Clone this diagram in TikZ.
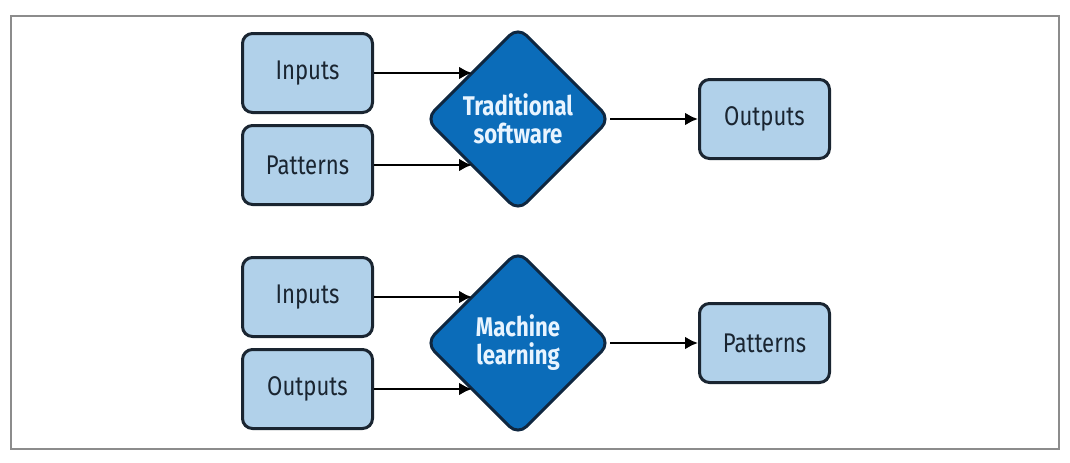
\documentclass[tikz,border=0pt]{standalone}
\usepackage{fontspec}
\setmainfont{Fira Sans}[FakeStretch=0.82]
\usepackage{tikz}
\usetikzlibrary{shapes.geometric, arrows.meta, positioning}

\definecolor{boxfill}{HTML}{B1D1EA}
\definecolor{boxline}{HTML}{1A2531}
\definecolor{decfill}{HTML}{0B6CB9}
\definecolor{decline}{HTML}{0F2740}
\definecolor{dectext}{HTML}{E8F4FF}
\definecolor{frameline}{HTML}{8C8C8C}

\tikzset{
  box/.style={draw=boxline, fill=boxfill, line width=1.5pt, rounded corners=5pt,
    minimum width=65pt, minimum height=39.5pt, text=boxline,
    font=\fontsize{13.5pt}{14pt}\selectfont},
  decision/.style={diamond, aspect=1, draw=decline, fill=decfill, line width=1.5pt,
    rounded corners=6pt, minimum size=92pt, inner sep=0pt, outer sep=0pt,
    align=center, text=dectext, font=\fontsize{13.5pt}{14pt}\selectfont\bfseries},
  arr/.style={-{Latex[length=6.5pt,width=6.5pt]}, line width=1.3pt, draw=black}
}

\begin{document}
\begin{tikzpicture}[node distance=2.0cm]
        \useasboundingbox (0,0) rectangle (535pt,231pt);
        \draw[frameline, line width=1pt] (5.5pt,6.5pt) rectangle (529.5pt,223pt);

        % traditional software
        \node[decision] (3) at (259pt,171.5pt) {Traditional\\software};
        \node[box] (1) [left=49pt of 3.north west] {Inputs};
        \node[box] (2) [left=49pt of 3.south west] {Patterns};
        \node[box] (4) [right=44pt of 3] {Outputs};

        \draw[arr] (1) -- (3.north west);
        \draw[arr] (2) -- (3.south west);
        \draw[arr] (3) -- (4);

        % machine learning
        \node[decision] (7) [below=20pt of 3] {Machine\\learning};
        \node[box] (5) [left=49pt of 7.north west] {Inputs};
        \node[box] (6) [left=49pt of 7.south west] {Outputs};
        \node[box] (8) [right=44pt of 7] {Patterns};

        \draw[arr] (5) -- (7.north west);
        \draw[arr] (6) -- (7.south west);
        \draw[arr] (7) -- (8);
\end{tikzpicture}
\end{document}
